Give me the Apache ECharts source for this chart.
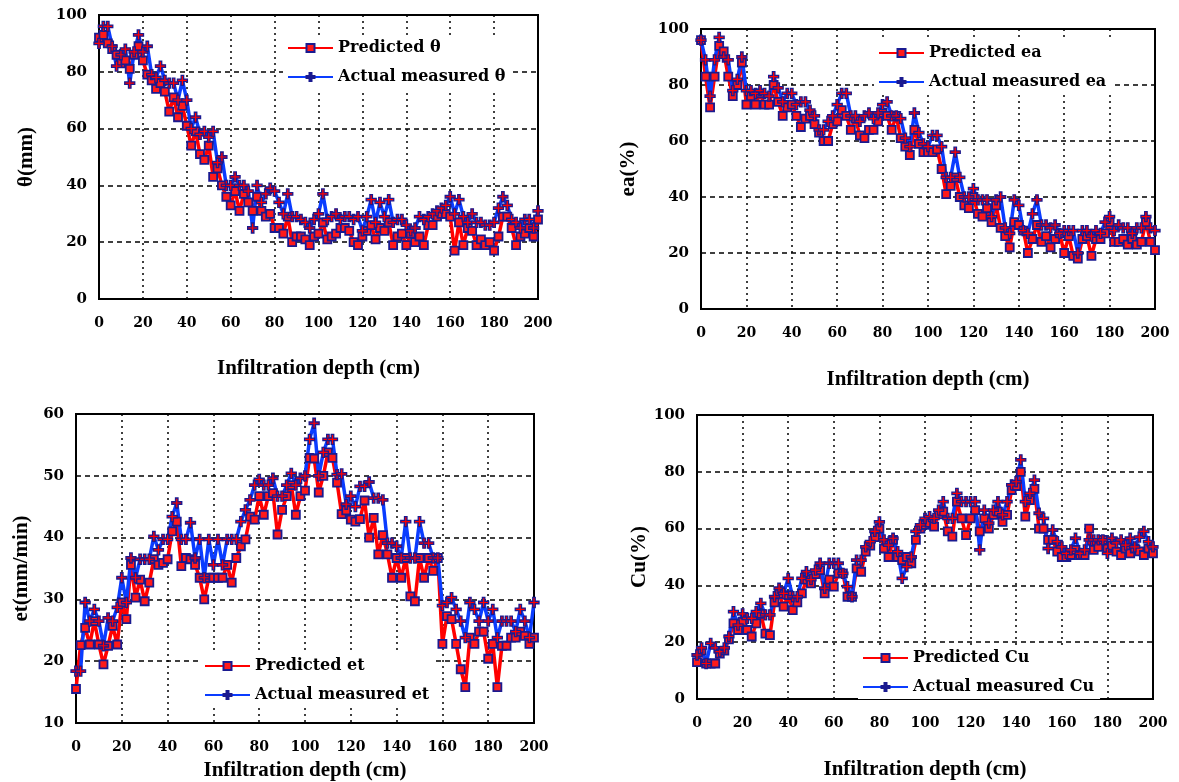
<!DOCTYPE html>
<html>
<head>
<meta charset="UTF-8">
<title>Infiltration depth</title>
<script src="https://cdn.jsdelivr.net/npm/echarts@6/dist/echarts.min.js"></script>
<style>
  html, body { margin: 0; padding: 0; background: #fff; }
  #main { width: 1179px; height: 782px; }
</style>
</head>
<body>
<div id="main"></div>
<script type="text/javascript">
// infiltration depth (cm), one reading every 2 cm
var depth = [0,2,4,6,8,10,12,14,16,18,20,22,24,26,28,30,32,34,36,38,40,42,44,46,48,50,
  52,54,56,58,60,62,64,66,68,70,72,74,76,78,80,82,84,86,88,90,92,94,96,98,100,
  102,104,106,108,110,112,114,116,118,120,122,124,126,128,130,132,134,136,138,140,
  142,144,146,148,150,152,154,156,158,160,162,164,166,168,170,172,174,176,178,180,
  182,184,186,188,190,192,194,196,198,200];

// θ (mm)
var thetaPred = [92,93,90,88,86,83,84,81,86,89, 84,79,77,74,76,73,66,71,64,68,
  61,54,59,51,49,54,43,46,40,36, 33,38,31,37,34,31,36,31,29,30,
  25,25,23,29,20,22,22,21,19,22, 23,27,21,22,23,25,25,24,20,19,
  22,24,26,21,25,24,27,19,22,23, 19,23,20,22,19,26,26,29,30,30,
  29,17,27,19,25,24,19,21,19,20, 17,22,29,29,25,19,22,23,25,22,28];
var thetaAct = [90,96,96,89,82,86,88,76,87,93, 87,89,79,78,82,77,76,76,70,77,
  70,60,64,58,59,57,59,48,50,40, 40,43,40,40,38,25,40,34,37,39,
  38,34,30,37,29,29,28,27,25,28, 30,37,28,29,30,28,29,29,28,29,
  24,29,35,27,34,29,35,27,28,28, 26,24,25,29,28,29,30,31,32,33,
  36,30,35,29,27,30,27,27,26,26, 27,32,36,33,28,27,25,28,28,25,31];

// ea (%)
var eaPred = [96,83,72,83,94,92,83,76,80,88, 73,76,73,77,73,73,80,74,69,72,
  73,69,65,68,69,66,63,60,60,66, 67,71,69,64,68,62,61,64,64,67,
  70,69,64,69,61,58,55,64,59,56, 56,56,57,50,41,44,47,40,37,36,
  40,34,33,36,31,37,29,26,22,31, 30,28,20,25,30,24,26,22,25,27,
  20,26,19,18,25,26,19,25,25,27, 31,24,24,25,23,25,23,24,31,24,21];
var eaAct = [96,89,76,89,97,90,89,78,82,90, 78,78,77,78,77,76,83,79,74,77,
  77,73,74,74,71,69,64,64,67,69, 73,77,77,69,69,67,69,70,68,70,
  73,74,69,69,68,61,58,70,63,59, 58,62,62,58,47,47,56,47,40,40,
  43,39,39,39,33,39,40,29,27,39, 37,28,27,34,39,30,30,29,30,27,
  28,28,28,20,28,28,26,28,27,31, 33,28,30,29,29,27,29,29,33,29,28];

// et (mm/min)
var etPred = [15.5,22.6,25.4,22.7,26.5,22.7,19.5,22.5,25.7,22.7,
  29.5,26.8,35.6,30.3,33.2,29.7,32.7,36.5,35.6,35.9,
  36.5,41,42.6,35.4,36.7,36.5,35.6,33.5,30,33.5,
  33.5,33.5,33.5,35.6,32.7,36.7,38.6,39.7,43.4,42.9,
  46.7,43.7,46.7,47.2,40.5,44.5,46.7,48.5,43.7,46.7,
  47.6,52.9,52.8,47.3,50,53.8,52.9,48.9,43.8,44.4,
  42.9,42.6,43,46,40,43.2,37.3,40.4,37.3,33.5,
  36.7,33.5,36.7,30.5,29.7,36.7,33.5,36.7,34.6,36.7,
  22.8,27.3,26.8,22.8,18.7,15.8,23.8,22.8,24.8,24.8,
  20.4,22.8,15.8,22.5,22.5,23.8,23.8,24.8,24.1,22.8,23.8];
var etAct = [18.4,18.4,29.5,26.5,28.4,26.5,22.5,27,26.5,28.7,
  33.5,29.5,36.7,33.5,36.5,36.5,36.5,40.2,38,39.7,
  39.7,43.4,45.6,39.7,39.7,42.4,36.7,39.7,33.5,39.7,
  35.6,39.7,35.6,39.7,39.7,39.7,42.6,44.5,46.1,48.5,
  49.4,48.5,48.5,49.6,46.7,46.7,48.5,50.4,48.5,49.6,
  50,55.9,58.5,50,53.8,55.9,55.9,50.2,50.3,45.4,
  46.7,45,48.3,48.3,49,46.4,46.4,46.1,39.1,39.1,
  38.6,36.7,42.6,36.7,36.7,42.6,39.1,39.1,36.7,36.7,
  29,29.5,30.3,28.4,26.5,23.8,29.5,28.4,26.5,29.5,
  26.5,28.4,23.8,26.5,26.5,26.5,24.8,28.4,26.5,23.8,29.5];

// Cu (%)
var cuPred = [13,17,12.5,12.5,12.5,16,17,21,26.6,24.3,
  27.2,24.3,22,26.6,30,23,22.5,34,37,32.5,
  36.6,31.3,34,37.2,42,40.7,44,45.4,37.2,42,
  39.6,44.2,44.2,36,36,46,44.8,51.9,54,57,
  60,53,50,56,50,48.9,50,47.8,56,60,
  61.3,62,60.7,65,66,59,57.2,69.5,63.6,57.7,
  63.6,66.5,59,63.6,60,64.8,66,62.4,64.8,73.6,
  75,80,64.2,70,74,60,60,56,56,51.9,
  50,50,50.7,52.5,50.7,50.7,60,52.5,53.6,56,
  53,54,51.9,50.7,53,51.3,53,52,50.7,53,51.3];
var cuAct = [15.5,18,12.5,19.6,18,16.7,18,22,30.8,26,
  30,28.4,28.4,30.8,33.7,29.6,29.6,36,39,37.2,
  42.5,36,36,42.5,44.8,42,45.4,47.8,39,47.8,
  47.8,47.8,44.2,39.6,36,48.9,48.9,53.6,55.4,59,
  62.4,56,54.2,56.6,51.9,42.5,46.6,50,59,61.3,
  63.6,64.2,63.6,66.5,69.5,63.6,63.6,72.4,69.5,69.5,
  69.5,69.5,52.5,66.5,61.9,66.5,69.5,64.8,69.5,75.4,
  76.5,84.2,69.5,72.4,77.1,65.4,63.6,53,59.5,55.4,
  53.6,51.3,52.5,56.6,51.3,52.5,56,56,56,56,
  51.3,56.6,55,56,54.2,56.6,53.6,57,59,55.4,53.6];

var yNames = ['θ(mm)', 'ea(%)', 'et(mm/min)', 'Cu(%)'];
var yMin = [0, 0, 10, 0];
var yMax = [100, 100, 60, 100];
var yStep = [20, 20, 10, 20];

var myChart = echarts.init(document.getElementById('main'));

function pairs(vals) {
    return depth.map(function (d, i) { return [d, vals[i]]; });
}

var labelFont = { fontFamily: 'DejaVu Serif', fontWeight: 'bold', color: '#000' };
var nameFont = { fontFamily: 'Liberation Serif', fontWeight: 'bold', fontSize: 21, color: '#000' };
var plusPath = 'path://M3,0H5V3H8V5H5V8H3V5H0V3H3Z';

var grids = [
    { left: 99, top: 15, width: 439, height: 284 },
    { left: 701, top: 29, width: 454, height: 280 },
    { left: 76, top: 414, width: 458, height: 309 },
    { left: 697, top: 415, width: 456, height: 284 }
];
var xNameGap = [59, 60, 37, 60];
var yNameGap = [62, 62, 44, 46];

var xAxes = [], yAxes = [];
for (var i = 0; i < 4; i++) {
    grids[i].show = true;
    grids[i].borderColor = '#000';
    grids[i].borderWidth = 2;
    xAxes.push({
        gridIndex: i, type: 'value', min: 0, max: 200, interval: 20,
        name: 'Infiltration depth (cm)', nameLocation: 'middle', nameGap: xNameGap[i],
        nameTextStyle: nameFont,
        axisLine: { lineStyle: { color: '#000', width: 2 } },
        axisTick: { show: false },
        axisLabel: Object.assign({ fontSize: 14, margin: 17 }, labelFont),
        splitLine: { lineStyle: { color: '#000', type: [2, 4], width: 1.5 } }
    });
    yAxes.push({
        gridIndex: i, type: 'value', min: yMin[i], max: yMax[i], interval: yStep[i],
        name: yNames[i], nameLocation: 'middle', nameGap: yNameGap[i],
        nameTextStyle: nameFont,
        axisLine: { lineStyle: { color: '#000', width: 2 } },
        axisTick: { show: false },
        axisLabel: Object.assign({ fontSize: 15, margin: 12 }, labelFont),
        splitLine: { lineStyle: { color: '#000', type: [5, 4], width: 1.5 } }
    });
}

var sets = [
    ['θ', thetaPred, thetaAct],
    ['ea', eaPred, eaAct],
    ['et', etPred, etAct],
    ['Cu', cuPred, cuAct]
];
var series = [];
sets.forEach(function (s, i) {
    series.push({
        name: 'Predicted ' + s[0], type: 'line', xAxisIndex: i, yAxisIndex: i,
        data: pairs(s[1]), symbol: 'rect', symbolSize: 8, color: '#ff0000',
        lineStyle: { color: '#ff0000', width: 3.5 },
        itemStyle: { color: '#ff1a1a', borderColor: '#1a1a90', borderWidth: 1.8 }
    });
    series.push({
        name: 'Actual measured ' + s[0], type: 'line', xAxisIndex: i, yAxisIndex: i,
        data: pairs(s[2]), symbol: plusPath, symbolSize: 10, color: '#0a3cff',
        lineStyle: { color: '#0a3cff', width: 3.5 },
        itemStyle: { color: '#ff0000', borderColor: '#1a1a90', borderWidth: 1.3 }
    });
});

var legendPos = [
    { left: 283, top: 36 },
    { left: 874, top: 41 },
    { left: 200, top: 654 },
    { left: 858, top: 646 }
];
var legends = legendPos.map(function (p, i) {
    return {
        orient: 'vertical', left: p.left, top: p.top,
        itemWidth: 45, itemHeight: 10, itemGap: 13,
        backgroundColor: '#fff', padding: [4, 6, 4, 4],
        textStyle: { fontFamily: 'DejaVu Serif', fontWeight: 'bold', fontSize: 16, color: '#000' },
        data: ['Predicted ' + sets[i][0], 'Actual measured ' + sets[i][0]]
    };
});

var option = {
    backgroundColor: '#fff',
    animation: false,
    grid: grids,
    xAxis: xAxes,
    yAxis: yAxes,
    legend: legends,
    series: series
};
myChart.setOption(option);
</script>
</body>
</html>
